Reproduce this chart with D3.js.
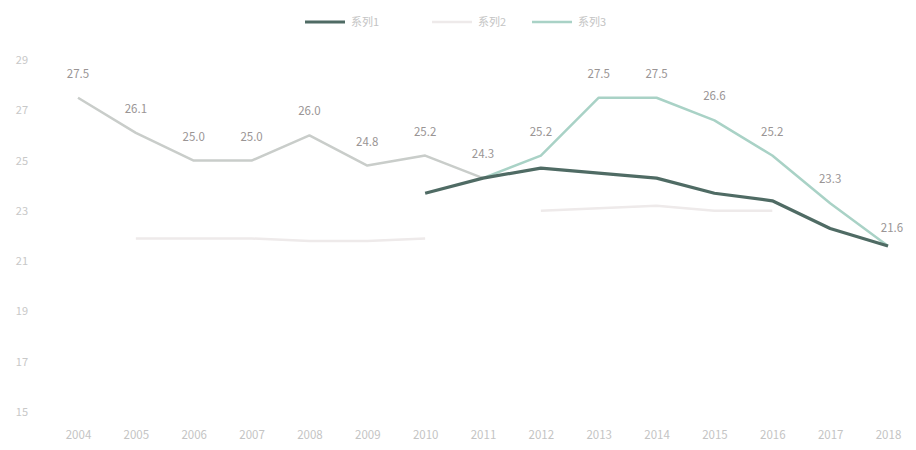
<!DOCTYPE html>
<html>
<head>
<meta charset="utf-8">
<script src="https://cdn.jsdelivr.net/npm/d3@7"></script>
<style>
  html, body { margin: 0; padding: 0; background: #fff; }
  svg text { font-family: "Noto Sans CJK SC", "Noto Sans", sans-serif; }
</style>
</head>
<body>
<svg id="chart" width="916" height="450"></svg>
<script>
// Years on the horizontal axis
const years = ["2004","2005","2006","2007","2008","2009","2010","2011","2012","2013","2014","2015","2016","2017","2018"];
// Vertical axis ticks
const yTicks = [15, 17, 19, 21, 23, 25, 27, 29];
// Series names
const seriesNames = ["系列1", "系列2", "系列3"];
// Series 1: dark line, from 2010
const darkValues = [null, null, null, null, null, null, 23.7, 24.3, 24.7, 24.5, 24.3, 23.7, 23.4, 22.3, 21.6];
// Series 2: very pale line
const paleValues = [null, 21.9, 21.9, 21.9, 21.8, 21.8, 21.9, null, 23.0, 23.1, 23.2, 23.0, 23.0, null, null];
// Series 3: labelled line across all years
const mainValues = [27.5, 26.1, 25.0, 25.0, 26.0, 24.8, 25.2, 24.3, 25.2, 27.5, 27.5, 26.6, 25.2, 23.3, 21.6];

const svg = d3.select("#chart");
const x = d3.scalePoint().domain(years).range([78, 888]);
const y = d3.scaleLinear().domain([15, 29]).range([412, 60]);

// Axis labels (no axis lines or gridlines)
const xAxis = d3.axisBottom(x).tickSize(0).tickPadding(0);
const gx = svg.append("g").attr("transform", "translate(0,429)").call(xAxis);
gx.select(".domain").remove();
gx.selectAll("text").attr("fill", "#c4c4c4").attr("font-size", 11.5).attr("dy", "0.9em");

const yAxis = d3.axisLeft(y).tickValues(yTicks).tickSize(0).tickPadding(0);
const gy = svg.append("g").attr("transform", "translate(28,0)").call(yAxis);
gy.select(".domain").remove();
gy.selectAll("text").attr("fill", "#c8c8c8").attr("font-size", 11);

const line = d3.line()
  .defined(d => d.v != null)
  .x(d => x(d.year))
  .y(d => y(d.v));

const toPts = arr => years.map((yr, i) => ({ year: yr, v: arr[i] }));

// pale series
svg.append("path").datum(toPts(paleValues))
  .attr("fill", "none").attr("stroke", "#eeeaea").attr("stroke-width", 2.5)
  .attr("d", line);

// labelled series: grey part up to 2011, teal part afterwards
const mainPts = toPts(mainValues);
svg.append("path").datum(mainPts.slice(0, 8))
  .attr("fill", "none").attr("stroke", "#c9cdca").attr("stroke-width", 2.5)
  .attr("stroke-linejoin", "round").attr("d", line);
svg.append("path").datum(mainPts.slice(7))
  .attr("fill", "none").attr("stroke", "#a9d2c6").attr("stroke-width", 2.5)
  .attr("stroke-linejoin", "round").attr("d", line);

// dark series
svg.append("path").datum(toPts(darkValues))
  .attr("fill", "none").attr("stroke", "#4f6b64").attr("stroke-width", 3.2)
  .attr("stroke-linejoin", "round").attr("d", line);

// value labels on the main series
svg.append("g").selectAll("text")
  .data(mainPts)
  .join("text")
  .attr("x", (d, i) => x(d.year) + (i === years.length - 1 ? 4 : 0))
  .attr("y", (d, i) => y(d.v) - (i === years.length - 1 ? 14 : 20))
  .attr("text-anchor", "middle")
  .attr("fill", "#9a9595")
  .attr("font-size", 11.5)
  .text(d => d.v.toFixed(1));

// legend
const legend = svg.append("g").attr("transform", "translate(0,22)");
const legendItems = [
  { name: seriesNames[0], color: "#4f6b64", w: 3.2, x0: 305 },
  { name: seriesNames[1], color: "#eeeaea", w: 2.5, x0: 432 },
  { name: seriesNames[2], color: "#a9d2c6", w: 2.5, x0: 532 }
];
legendItems.forEach(it => {
  legend.append("line")
    .attr("x1", it.x0).attr("x2", it.x0 + 40)
    .attr("y1", 0).attr("y2", 0)
    .attr("stroke", it.color).attr("stroke-width", it.w);
  legend.append("text")
    .attr("x", it.x0 + 46).attr("y", 4)
    .attr("fill", "#c4c4c4").attr("font-size", 11)
    .text(it.name);
});
</script>
</body>
</html>
